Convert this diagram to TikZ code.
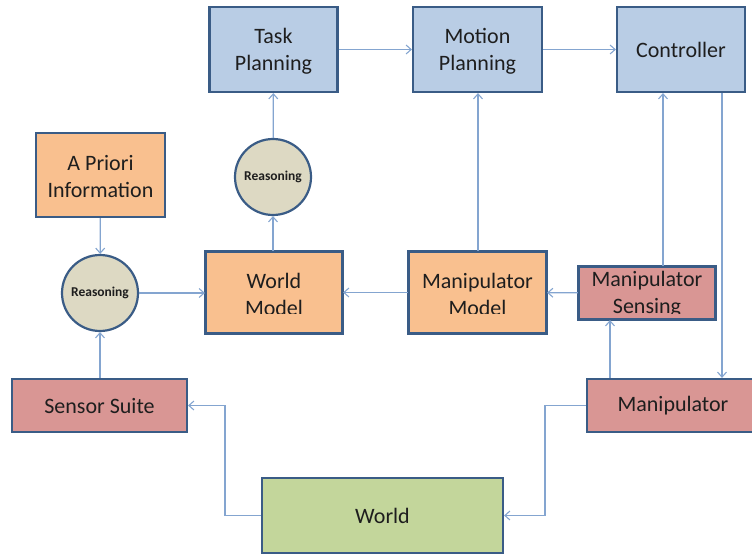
\documentclass[tikz,border=0pt]{standalone}
\usepackage{fontspec}
\setmainfont{Carlito}
\usetikzlibrary{arrows.meta}

\definecolor{edgeblue}{HTML}{3A5C86}
\definecolor{linkblue}{HTML}{84A5D0}
\definecolor{planfill}{HTML}{B9CDE5}
\definecolor{modelfill}{HTML}{F9C08F}
\definecolor{sensefill}{HTML}{D99694}
\definecolor{worldfill}{HTML}{C3D69B}
\definecolor{thinkfill}{HTML}{DDD9C3}
\definecolor{inktext}{HTML}{1E1E1E}

\tikzset{
  block/.style={draw=edgeblue, line width=2.2pt, rectangle, inner sep=0pt},
  plan/.style={block, fill=planfill},
  model/.style={block, fill=modelfill},
  sense/.style={block, fill=sensefill},
  earth/.style={block, fill=worldfill},
  think/.style={draw=edgeblue, line width=2.2pt, circle, fill=thinkfill,
    minimum size=76pt, inner sep=0pt, text=inktext,
    font=\fontsize{13.5}{16}\selectfont\bfseries},
  label/.style={align=center, text=inktext, inner sep=0pt,
    font=\fontsize{22}{27}\selectfont},
  frame/.style={draw=edgeblue, line width=2.2pt},
  link/.style={draw=linkblue, line width=1.3pt,
    -{Straight Barb[length=5pt,width=9pt,line width=1.1pt]}}
}

\begin{document}
\begin{tikzpicture}[x=1pt, y=-1pt]
  \useasboundingbox (0,0) rectangle (752,556);

  % planning layer
  \node[plan, minimum width=128pt, minimum height=85pt] (task) at (273.5,49.5) {};
  \node[plan, minimum width=129pt, minimum height=85pt] (motion) at (477.5,49.5) {};
  \node[plan, minimum width=128pt, minimum height=85pt] (ctrl) at (681,49.5) {};
  \node[label] (tasktext) at (273.5,51.5) {Task\\Planning};
  \node[label] (motiontext) at (477.5,51.5) {Motion\\Planning};
  \node[label] (ctrltext) at (681,49.5) {Controller};

  % knowledge and models
  \node[model, minimum width=129pt, minimum height=84pt] (prior) at (100.5,175) {};
  \node[label] (priortext) at (100.5,176.5) {A Priori\\Information};
  \node[think] (reasonA) at (273,177) {Reasoning};
  \node[think] (reasonB) at (100,293) {Reasoning};

  \node[model, minimum width=136pt, minimum height=81pt] (wmodel) at (274,292.5) {};
  \node[model, minimum width=137pt, minimum height=81pt] (mmodel) at (477.5,292.5) {};
  \node[sense, minimum width=136pt, minimum height=52pt] (msense) at (647,293) {};

  % text of these boxes is cut off inside the frame
  \begin{scope}
    \clip ([xshift=1pt,yshift=-1pt]wmodel.north west) rectangle ([xshift=-1pt,yshift=21pt]wmodel.south east);
    \node[label] (wmtext) at (274,294) {World\\Model};
  \end{scope}
  \begin{scope}
    \clip ([xshift=1pt,yshift=-1pt]mmodel.north west) rectangle ([xshift=-1pt,yshift=21pt]mmodel.south east);
    \node[label] (mmtext) at (477.5,294) {Manipulator\\Model};
  \end{scope}
  \begin{scope}
    \clip ([xshift=1pt,yshift=-1pt]msense.north west) rectangle ([xshift=-1pt,yshift=7pt]msense.south east);
    \node[label] (mstext) at (647,294) {Manipulator\\Sensing};
  \end{scope}
  \draw[frame] (wmodel.north west) rectangle (wmodel.south east);
  \draw[frame] (mmodel.north west) rectangle (mmodel.south east);
  \draw[frame] (msense.north west) rectangle (msense.south east);

  % physical layer
  \node[sense, minimum width=175pt, minimum height=53pt] (suite) at (99.5,405.5) {};
  \node[label] (suitetext) at (99.5,406) {Sensor Suite};
  \node[sense, minimum width=172pt, minimum height=53pt] (manip) at (673,405.5) {};
  \node[label] (maniptext) at (673,406) {Manipulator};
  \node[earth, minimum width=241pt, minimum height=75pt] (world) at (382.5,515.5) {};
  \node[label] (worldtext) at (382.5,516) {World};

  % connectors
  \draw[link] (task) -- (motion);
  \draw[link] (motion) -- (ctrl);
  \draw[link] (ctrl.south -| 722,0) -- (manip.north -| 722,0);
  \draw[link] (msense.north -| 663,0) -- (ctrl.south -| 663,0);
  \draw[link] (manip.north -| 610,0) -- (msense.south -| 610,0);
  \draw[link] (msense) -- (mmodel);
  \draw[link] (mmodel.north -| 478,0) -- (motion.south -| 478,0);
  \draw[link] (mmodel) -- (wmodel);
  \draw[link] (wmodel.north -| reasonA) -- (reasonA);
  \draw[link] (reasonA) -- (task);
  \draw[link] (prior) -- (reasonB);
  \draw[link] (reasonB) -- (wmodel.west |- reasonB);
  \draw[link] (suite.north -| reasonB) -- (reasonB);
  \draw[link] (world.west) -| (225,440) |- (suite.east);
  \draw[link] (manip.west) -| (545,460) |- (world.east);
\end{tikzpicture}
\end{document}
